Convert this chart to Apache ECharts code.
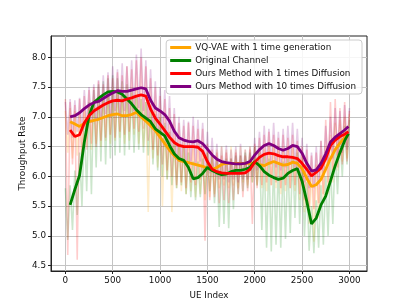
<!DOCTYPE html>
<html><head><meta charset="utf-8">
<script src="https://cdn.jsdelivr.net/npm/echarts@6/dist/echarts.min.js"></script>
<style>html,body{margin:0;padding:0;background:#fff}#c{width:407px;height:305px}</style>
</head><body><div id="c"></div>
<script>
const NAMES = ['VQ-VAE with 1 time generation','Original Channel','Ours Method with 1 times Diffusion','Ours Method with 10 times Diffusion'];
const COLORS = ['#FFA500','#008000','#FF0000','#800080'];
const X_TICKS = [0,500,1000,1500,2000,2500,3000];
const Y_TICKS = [4.5,5.0,5.5,6.0,6.5,7.0,7.5,8.0];

// smoothed curves (UE index positions)
const SMOOTH_X = [50,100,150,200,250,300,350,400,450,500,550,600,650,700,750,800,850,900,950,1000,
  1050,1100,1150,1200,1250,1300,1350,1400,1450,1500,1550,1600,1650,1700,1750,1800,1850,1900,1950,2000,
  2050,2100,2150,2200,2250,2300,2350,2400,2450,2500,2550,2600,2650,2700,2750,2800,2850,2900,2950,2990];
const VQVAE = [6.92,6.88,6.84,6.89,6.92,6.94,6.96,6.99,7.02,7.04,7.05,7.02,7.02,7.04,7.08,7.00,6.93,6.85,6.77,6.66,
  6.55,6.44,6.35,6.27,6.25,6.23,6.21,6.19,6.17,6.14,6.12,6.15,6.20,6.22,6.22,6.22,6.22,6.22,6.22,6.23,
  6.20,6.18,6.22,6.25,6.22,6.19,6.20,6.24,6.22,6.13,5.97,5.83,5.86,5.95,6.12,6.30,6.45,6.56,6.65,6.71];
const ORIGINAL = [5.52,5.78,6.02,6.58,7.02,7.24,7.31,7.37,7.42,7.43,7.42,7.38,7.30,7.22,7.12,7.04,6.98,6.92,6.80,6.74,
  6.68,6.52,6.38,6.30,6.27,6.15,5.96,5.98,6.05,6.15,6.10,6.06,6.03,6.04,6.08,6.10,6.10,6.12,6.15,6.25,
  6.18,6.08,6.02,5.98,5.95,5.97,6.05,6.10,6.13,5.92,5.58,5.20,5.30,5.52,5.67,5.92,6.18,6.40,6.60,6.72];
const OURS1 = [6.78,6.67,6.70,6.90,7.02,7.10,7.15,7.20,7.24,7.27,7.28,7.27,7.30,7.32,7.35,7.37,7.35,7.13,6.98,6.88,
  6.77,6.66,6.57,6.52,6.50,6.50,6.50,6.49,6.42,6.25,6.12,6.08,6.06,6.05,6.05,6.05,6.05,6.06,6.12,6.24,
  6.32,6.37,6.39,6.38,6.35,6.33,6.33,6.32,6.30,6.22,6.12,6.01,6.07,6.14,6.30,6.52,6.61,6.67,6.71,6.75];
const OURS10 = [7.00,7.02,7.07,7.14,7.20,7.24,7.26,7.31,7.36,7.40,7.44,7.43,7.43,7.45,7.47,7.49,7.47,7.28,7.15,7.10,
  7.04,6.93,6.76,6.65,6.61,6.59,6.58,6.60,6.55,6.46,6.36,6.29,6.25,6.23,6.22,6.21,6.21,6.22,6.25,6.36,
  6.45,6.52,6.55,6.52,6.47,6.44,6.47,6.52,6.50,6.39,6.22,6.09,6.11,6.22,6.38,6.58,6.66,6.72,6.78,6.84];

// raw (unsmoothed) samples, faded in background
const RAW_X = [0,25,50,75,100,125,150,175,200,225,250,275,300,325,350,375,400,425,450,475,500,525,550,575,600,625,650,675,700,725,
  750,775,800,825,850,875,900,925,950,975,1000,1025,1050,1075,1100,1125,1150,1175,1200,1225,1250,1275,1300,1325,1350,1375,1400,1425,1450,1475,
  1500,1525,1550,1575,1600,1625,1650,1675,1700,1725,1750,1775,1800,1825,1850,1875,1900,1925,1950,1975,2000,2025,2050,2075,2100,2125,2150,2175,2200,2225,
  2250,2275,2300,2325,2350,2375,2400,2425,2450,2475,2500,2525,2550,2575,2600,2625,2650,2675,2700,2725,2750,2775,2800,2825,2850,2875,2900,2925,2950,2975,3000];
const VQVAE_RAW = [7.10,6.40,7.15,6.30,7.10,6.35,7.05,6.40,7.15,6.50,7.20,6.45,7.25,6.55,7.20,6.50,7.30,6.60,7.35,6.55,
  7.30,6.60,7.40,6.65,7.35,6.55,7.35,6.60,7.40,6.70,7.45,6.55,7.35,6.50,7.25,5.40,7.20,6.30,7.10,6.15,
  7.00,5.50,6.85,5.95,6.75,5.40,6.65,5.80,6.55,5.75,6.55,5.70,6.50,5.75,6.50,5.65,6.45,5.70,6.45,5.60,
  6.40,5.65,6.40,5.70,6.45,5.80,6.50,5.85,6.45,5.80,6.50,5.85,6.45,5.80,6.50,5.90,6.45,5.85,6.50,5.90,
  6.50,5.85,6.45,5.80,6.45,5.75,6.50,5.85,6.55,5.80,6.50,5.70,6.45,5.75,6.50,5.80,6.50,5.75,6.45,5.60,
  6.40,5.40,6.25,5.20,6.15,4.90,6.20,5.30,6.35,5.55,6.50,5.70,6.70,5.90,6.90,6.10,6.95,6.25,7.00,6.30,7.05];
const ORIGINAL_RAW = [5.80,4.93,5.85,5.10,6.10,5.35,6.40,5.50,6.90,5.75,7.25,5.70,7.45,6.15,7.55,6.25,7.60,6.20,7.65,6.30,
  7.70,6.35,7.65,6.40,7.60,6.35,7.55,6.45,7.45,6.40,7.35,6.45,7.30,6.40,7.25,6.35,7.15,6.20,7.05,6.10,
  7.00,6.00,6.90,5.95,6.75,5.85,6.60,5.80,6.55,5.85,6.50,5.70,6.40,5.65,6.25,5.60,6.25,5.65,6.30,5.70,
  6.40,5.75,6.35,5.55,6.30,5.15,6.25,5.20,6.30,5.13,6.30,5.45,6.35,5.70,6.35,5.75,6.40,5.80,6.40,5.90,
  6.50,5.85,6.45,5.10,6.35,4.80,6.30,4.74,6.25,4.85,6.20,4.80,6.25,4.95,6.30,5.05,6.35,5.30,6.40,5.20,
  6.20,5.00,5.90,4.75,5.50,4.71,5.60,4.80,5.85,4.85,6.00,5.00,6.25,5.20,6.45,5.70,6.65,6.00,6.85,6.20,6.95];
const OURS1_RAW = [7.30,4.68,7.25,6.20,7.20,4.60,7.30,6.20,7.35,6.45,7.45,6.55,7.50,6.50,7.60,6.60,7.55,6.65,7.70,6.70,
  7.65,6.65,7.75,6.75,7.70,6.70,7.85,6.75,7.80,6.80,7.95,6.75,8.00,6.80,7.85,6.60,7.65,6.45,7.50,6.35,
  7.35,6.20,7.30,6.10,7.15,6.00,7.05,5.85,6.90,5.90,6.85,5.80,6.90,5.90,6.85,5.85,6.80,5.95,6.80,4.92,
  6.55,5.60,6.45,5.65,6.40,5.55,6.35,5.60,6.40,5.55,6.30,5.60,6.40,5.70,6.35,5.65,6.35,5.75,6.45,5.20,
  6.55,5.80,6.65,5.85,6.70,5.90,6.75,5.85,6.70,5.90,6.65,5.80,6.70,5.85,6.65,5.80,6.70,5.85,6.60,5.70,
  6.50,5.60,6.45,5.50,6.35,5.45,6.40,5.55,6.60,5.70,6.95,5.90,7.25,6.10,7.30,6.15,7.15,6.20,7.25,6.25,7.10];
const OURS10_RAW = [7.25,6.70,7.30,6.65,7.28,6.75,7.32,6.80,7.45,6.85,7.50,6.90,7.55,6.95,7.62,6.95,7.70,7.05,7.75,7.00,
  7.85,7.10,7.80,7.05,7.90,7.10,7.85,7.05,7.95,7.10,8.05,7.15,8.15,7.10,7.95,6.95,7.80,6.85,7.60,6.75,
  7.50,6.70,7.45,6.60,7.35,6.45,7.15,6.35,7.00,6.30,6.95,6.25,6.92,6.25,7.00,6.20,6.95,6.25,6.90,6.15,
  6.75,6.05,6.65,6.00,6.55,5.95,6.50,5.95,6.52,5.90,6.45,5.95,6.50,5.90,6.55,5.95,6.45,5.95,6.50,6.00,
  6.65,6.10,6.75,6.15,6.85,6.20,6.80,6.20,6.90,6.15,6.75,6.10,6.80,6.15,6.85,6.20,6.90,6.15,6.80,6.05,
  6.65,5.90,6.55,5.80,6.40,5.80,6.50,5.90,6.60,6.05,6.85,6.20,7.00,6.30,7.15,6.35,7.10,6.40,7.20,6.45,7.15];

const pair = (xs, ys) => xs.map((x, i) => [x, ys[i]]);
const SMOOTH = [VQVAE, ORIGINAL, OURS1, OURS10];
const RAW = [VQVAE_RAW, ORIGINAL_RAW, OURS1_RAW, OURS10_RAW];

const series = [];
RAW.forEach((ys, i) => series.push({
  type: 'line', data: pair(RAW_X, ys), showSymbol: false, silent: true, z: 1,
  lineStyle: { color: COLORS[i], width: 1.6, opacity: 0.2 }
}));
SMOOTH.forEach((ys, i) => series.push({
  name: NAMES[i], type: 'line', data: pair(SMOOTH_X, ys), showSymbol: false, z: 3 + i,
  itemStyle: { color: COLORS[i] },
  lineStyle: { color: COLORS[i], width: 2.8 }
}));

const font = 'DejaVu Sans';
const chart = echarts.init(document.getElementById('c'), null, { renderer: 'canvas' });
chart.setOption({
  animation: false,
  backgroundColor: '#fff',
  grid: { left: 51, right: 40, top: 36, bottom: 34, show: true, borderColor: '#222', borderWidth: 1, backgroundColor: 'transparent' },
  legend: {
    data: NAMES, orient: 'vertical', right: 45, top: 40,
    icon: 'rect', itemWidth: 21, itemHeight: 3, itemGap: 4,
    backgroundColor: 'rgba(255,255,255,0.85)', borderColor: '#cccccc', borderWidth: 1, borderRadius: 3,
    padding: [3, 6, 3, 4],
    textStyle: { fontFamily: font, fontSize: 8.8, color: '#111', padding: [0, 0, 0, -1] }
  },
  xAxis: {
    type: 'value', min: -152, max: 3186,
    name: 'UE Index', nameLocation: 'middle', nameGap: 20, nameMoveOverlap: false,
    nameTextStyle: { fontFamily: font, fontSize: 8.8, color: '#111' },
    axisLine: { show: true, onZero: false, lineStyle: { color: '#222', width: 1 } },
    axisTick: { show: true, length: 3, customValues: X_TICKS, lineStyle: { color: '#222' } },
    axisLabel: { customValues: X_TICKS, margin: 5, fontFamily: font, fontSize: 8.8, color: '#111', formatter: v => String(v) },
    splitLine: { show: true, lineStyle: { color: '#c4c4c4', width: 1 } }
  },
  yAxis: {
    type: 'value', min: 4.41, max: 8.36,
    name: 'Throughput Rate', nameLocation: 'middle', nameGap: 24, nameMoveOverlap: false,
    nameTextStyle: { fontFamily: font, fontSize: 8.8, color: '#111' },
    axisLine: { show: true, onZero: false, lineStyle: { color: '#222', width: 1 } },
    axisTick: { show: true, length: 3, customValues: Y_TICKS, lineStyle: { color: '#222' } },
    axisLabel: { customValues: Y_TICKS, margin: 5, fontFamily: font, fontSize: 8.8, color: '#111', formatter: v => v.toFixed(1) },
    splitLine: { show: true, lineStyle: { color: '#c4c4c4', width: 1 } }
  },
  series: series
});
</script>
</body></html>
